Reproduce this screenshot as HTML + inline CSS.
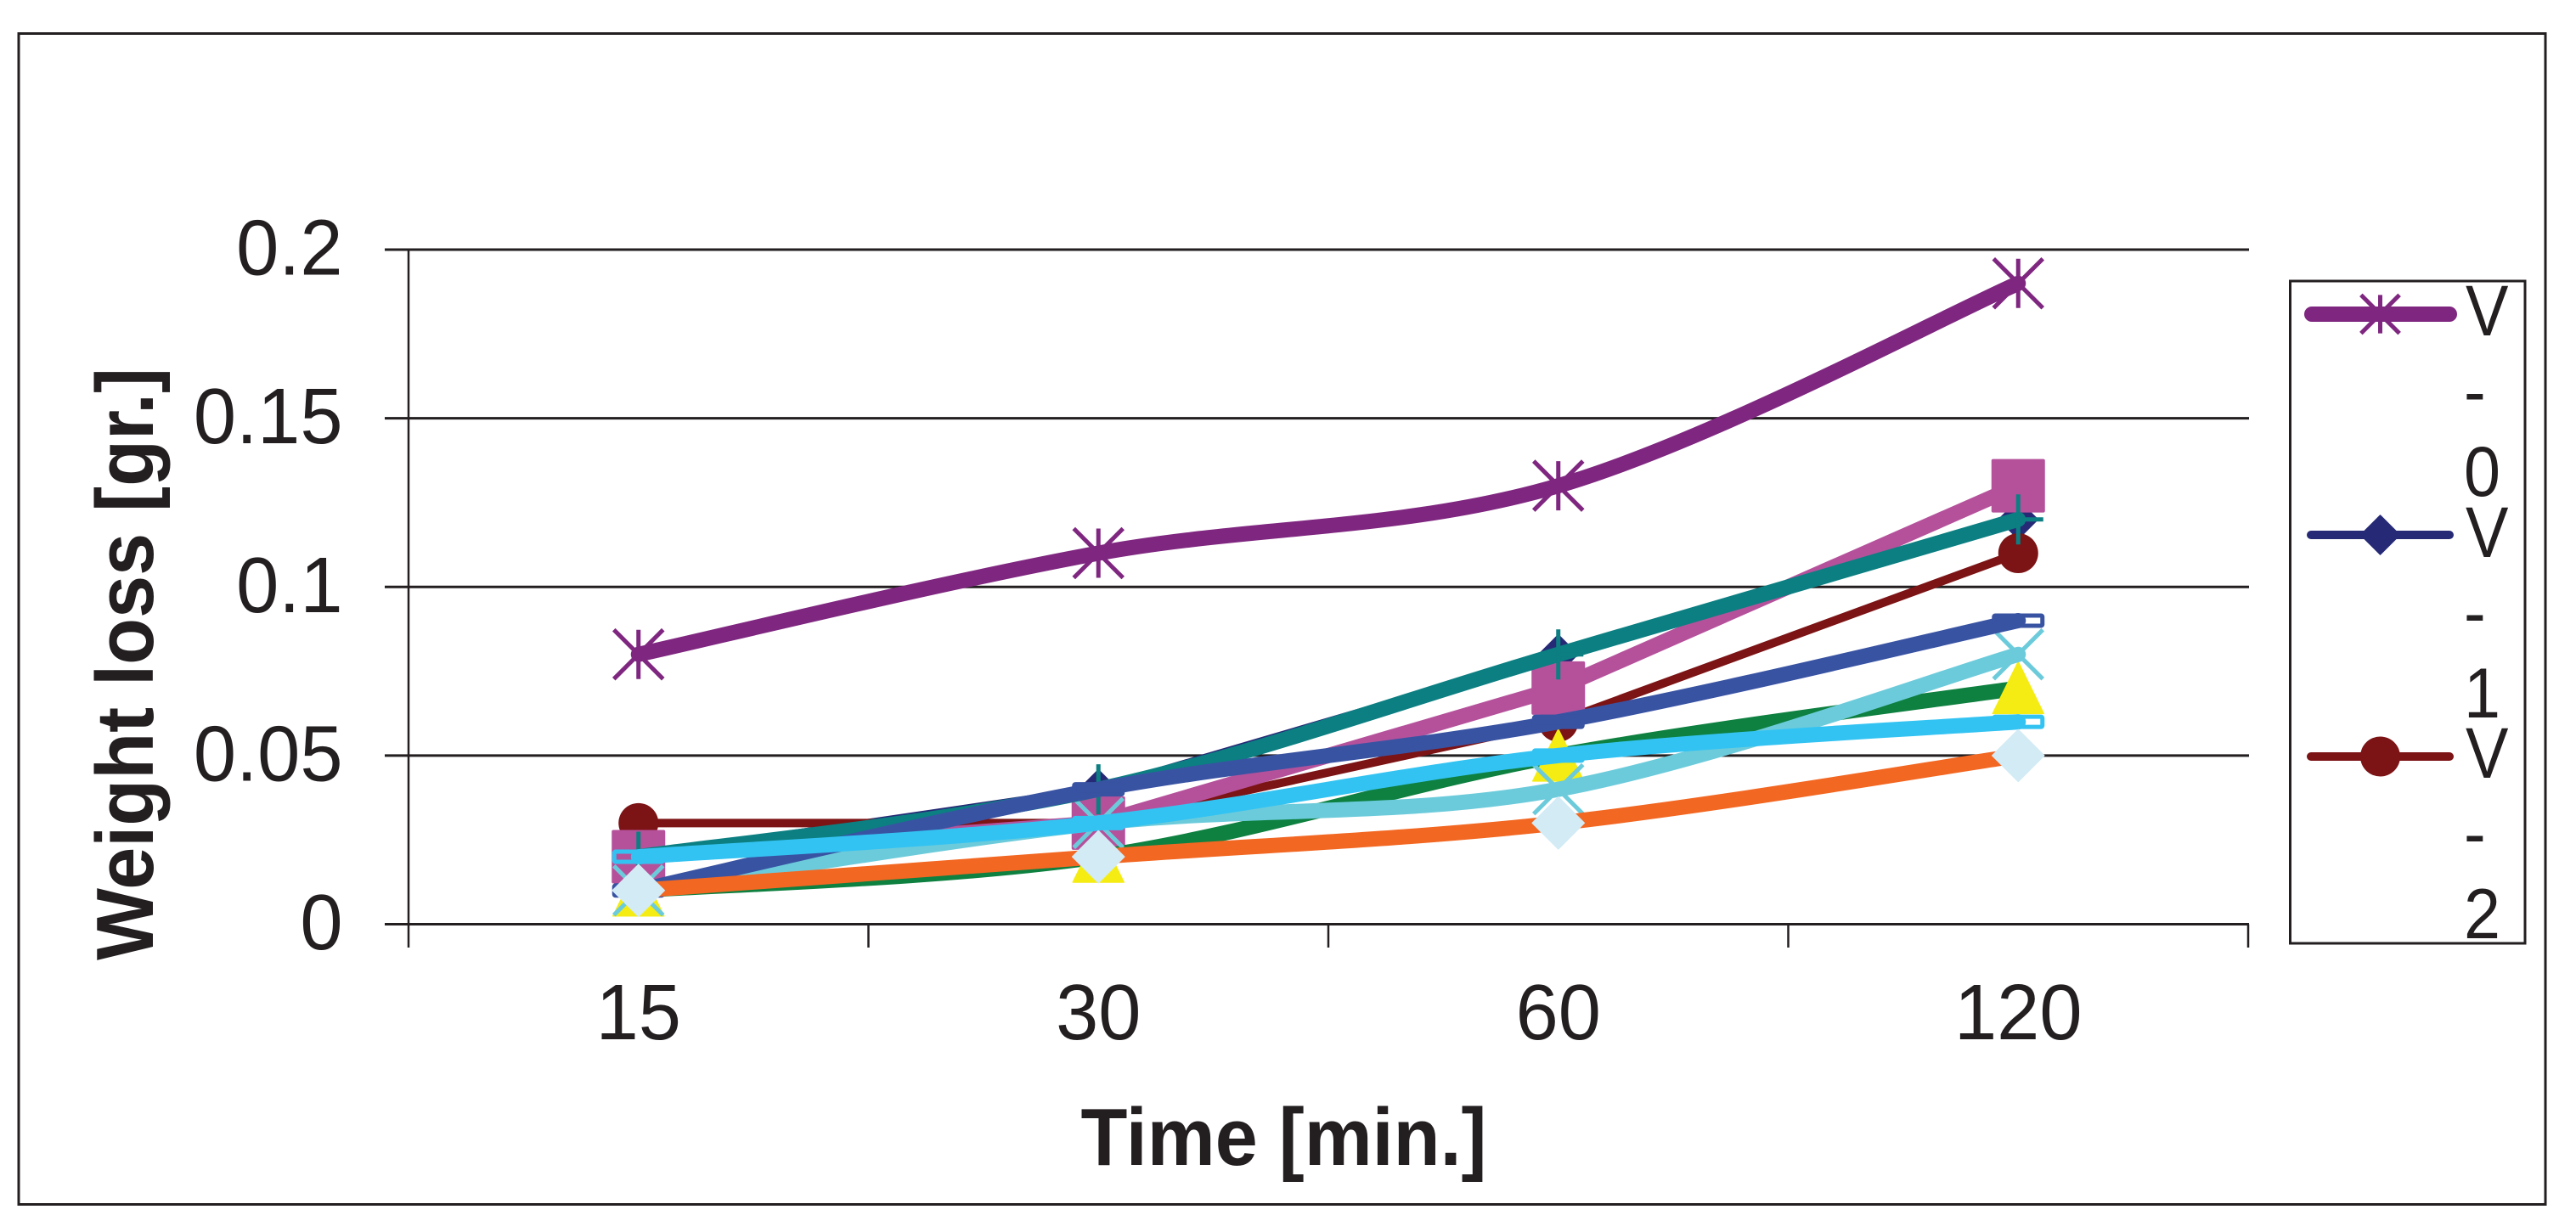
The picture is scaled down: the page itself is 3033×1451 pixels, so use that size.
<!DOCTYPE html>
<html lang="en">
<head>
<meta charset="utf-8">
<title>Weight loss over time</title>
<style>
html,body{margin:0;padding:0;background:#fff;}
svg{display:block;}
text{font-family:"Liberation Sans",Arial,sans-serif;fill:#231f20;}
</style>
</head>
<body>
<svg id="chart" xmlns="http://www.w3.org/2000/svg" width="3033" height="1451" viewBox="0 0 3033 1451">
  <rect x="0" y="0" width="3033" height="1451" fill="#ffffff"/>
  <rect x="22" y="39.5" width="2975" height="1379" fill="none" stroke="#231f20" stroke-width="3"/>
  <g id="grid"></g>
  <g id="axes"></g>
  <g id="plot"></g>
  <text transform="translate(180,1131) rotate(-90)" font-size="96" font-weight="700" textLength="698" lengthAdjust="spacingAndGlyphs">Weight loss [gr.]</text>
  <text x="1272.5" y="1372" font-size="96" font-weight="700" textLength="478" lengthAdjust="spacingAndGlyphs">Time [min.]</text>
  <g>
    <rect x="2696.5" y="331" width="276.5" height="780" fill="#ffffff" stroke="#231f20" stroke-width="3"/>
    <g id="legend-marks"></g>
    <g font-size="84">
      <text transform="translate(2903,395) scale(.9,1)">V</text>
      <text transform="translate(2901,489.5) scale(.92,1)">-</text>
      <text transform="translate(2901,584) scale(.92,1)">0</text>
    </g>
    <g font-size="84">
      <text transform="translate(2903,656) scale(.9,1)">V</text>
      <text transform="translate(2901,750) scale(.92,1)">-</text>
      <text transform="translate(2901,845) scale(.92,1)">1</text>
    </g>
    <g font-size="84">
      <text transform="translate(2903,916) scale(.9,1)">V</text>
      <text transform="translate(2901,1010) scale(.92,1)">-</text>
      <text transform="translate(2901,1105) scale(.92,1)">2</text>
    </g>
  </g>
</svg>
<script>
// Chart data
const categories = ["15", "30", "60", "120"];
const yTickValues = [0, 0.05, 0.1, 0.15, 0.2];
const yTickLabels = ["0", "0.05", "0.1", "0.15", "0.2"];
const v0Values = [0.08, 0.11, 0.13, 0.19];
const v1Values = [0.02, 0.04, 0.08, 0.12];
const v2Values = [0.03, 0.03, 0.06, 0.11];
const v3Values = [0.02, 0.03, 0.07, 0.13];
const v4Values = [0.01, 0.02, 0.05, 0.07];
const v5Values = [0.01, 0.03, 0.04, 0.08];
const v6Values = [0.02, 0.04, 0.08, 0.12];
const v7Values = [0.01, 0.04, 0.06, 0.09];
const v8Values = [0.02, 0.03, 0.05, 0.06];
const v9Values = [0.01, 0.02, 0.03, 0.05];

const INK = '#231f20';
const NS = 'http://www.w3.org/2000/svg';
const plotLeft = 481, plotRight = 2647, plotBottom = 1088.5, plotTop = 294;

function xScale(i) {
  return plotLeft + (i + 0.5) * (plotRight - plotLeft) / categories.length;
}
function yScale(v) {
  return plotBottom - v / 0.2 * (plotBottom - plotTop);
}
function mk(tag, parent) {
  const el = document.createElementNS(NS, tag);
  parent.appendChild(el);
  return el;
}
function smoothPath(pts) {
  let d = 'M' + pts[0][0] + ' ' + pts[0][1];
  for (let i = 0; i < pts.length - 1; i++) {
    const p0 = pts[Math.max(i - 1, 0)], p1 = pts[i], p2 = pts[i + 1], p3 = pts[Math.min(i + 2, pts.length - 1)];
    const c1x = p1[0] + (p2[0] - p0[0]) / 6, c1y = p1[1] + (p2[1] - p0[1]) / 6;
    const c2x = p2[0] - (p3[0] - p1[0]) / 6, c2y = p2[1] - (p3[1] - p1[1]) / 6;
    d += ' C' + c1x + ' ' + c1y + ' ' + c2x + ' ' + c2y + ' ' + p2[0] + ' ' + p2[1];
  }
  return d;
}
function straightPath(pts) {
  return pts.map(function (p, i) { return (i ? 'L' : 'M') + p[0] + ' ' + p[1]; }).join(' ');
}

// Draw one marker glyph around (cx, cy)
function drawMarker(parent, kind, color, cx, cy, k) {
  const g = mk('g', parent);
  
  
  function seg(x1, y1, x2, y2) {
    const l = mk('line', g);
    l.setAttribute('x1', cx + x1 * k);
    l.setAttribute('y1', cy + y1 * k);
    l.setAttribute('x2', cx + x2 * k);
    l.setAttribute('y2', cy + y2 * k);
    l.setAttribute('stroke', color);
    l.setAttribute('stroke-width', 5);
  }
  function poly(points) {
    const p = mk('polygon', g);
    p.setAttribute('points', points.map(function (q) { return (cx + q[0] * k) + ',' + (cy + q[1] * k); }).join(' '));
    p.setAttribute('fill', color);
    p.setAttribute('stroke', color);
    p.setAttribute('stroke-width', 1.5);
    p.setAttribute('stroke-linejoin', 'round');
  }
  if (kind === 'star') {
    seg(0, -29, 0, 29); seg(-29, -29, 29, 29); seg(-29, 29, 29, -29);
  } else if (kind === 'diamond') {
    poly([[0, -23], [23, 0], [0, 23], [-23, 0]]);
  } else if (kind === 'circle') {
    const c = mk('circle', g);
    c.setAttribute('cx', cx);
    c.setAttribute('cy', cy);
    c.setAttribute('r', 23.5 * k);
    c.setAttribute('fill', color);
  } else if (kind === 'square') {
    const r = mk('rect', g);
    r.setAttribute('x', cx - 31.5 * k);
    r.setAttribute('y', cy - 31.5 * k);
    r.setAttribute('width', 63 * k);
    r.setAttribute('height', 63 * k);
    r.setAttribute('rx', 2);
    r.setAttribute('fill', color);
  } else if (kind === 'triangle') {
    poly([[0, -31], [30, 30], [-30, 30]]);
  } else if (kind === 'cross') {
    seg(-29, -29, 29, 29); seg(-29, 29, 29, -29);
  } else if (kind === 'plus') {
    seg(0, -29.5, 0, 29.5); seg(0, 0, 29.5, 0);
  } else if (kind === 'dash') {
    const r = mk('rect', g);
    r.setAttribute('x', cx - 28.5);
    r.setAttribute('y', cy - 6);
    r.setAttribute('width', 57);
    r.setAttribute('height', 12);
    r.setAttribute('rx', 1.5);
    r.setAttribute('fill', 'none');
    r.setAttribute('stroke', color);
    r.setAttribute('stroke-width', 5);
  } else if (kind === 'bigdiamond') {
    poly([[0, -30.5], [30.5, 0], [0, 30.5], [-30.5, 0]]);
  }
}

// Series styling, in paint order
const series = [
  { name: 'v-0-series', values: v0Values, color: '#7f2780', width: 18, smooth: true,  marker: 'star',       markerColor: '#7f2780' },
  { name: 'v-1-series', values: v1Values, color: '#262a76', width: 10, smooth: false, marker: 'diamond',    markerColor: '#262a76' },
  { name: 'v-2-series', values: v2Values, color: '#7c1315', width: 10, smooth: false, marker: 'circle',     markerColor: '#7c1315' },
  { name: 'magenta-series', values: v3Values, color: '#b5519b', width: 18, smooth: false, marker: 'square', markerColor: '#b5519b' },
  { name: 'green-series', values: v4Values, color: '#0e8040', width: 18, smooth: true, marker: 'triangle',  markerColor: '#f5ec13' },
  { name: 'cyan-series', values: v5Values, color: '#6ccbdb', width: 18, smooth: true, marker: 'cross',      markerColor: '#6ccbdb' },
  { name: 'teal-series', values: v6Values, color: '#0c7f82', width: 18, smooth: true, marker: 'plus',       markerColor: '#0c7f82' },
  { name: 'blue-series', values: v7Values, color: '#3953a3', width: 18, smooth: true, marker: 'dash',       markerColor: '#3953a3' },
  { name: 'sky-series', values: v8Values, color: '#33c3f2', width: 18, smooth: true, marker: 'dash',        markerColor: '#33c3f2' },
  { name: 'orange-series', values: v9Values, color: '#f26722', width: 18, smooth: true, marker: 'bigdiamond', markerColor: '#d2ebf5' }
];

const gridG = document.getElementById('grid');
const axesG = document.getElementById('axes');
const plotG = document.getElementById('plot');
const legendG = document.getElementById('legend-marks');

// Gridlines and y ticks
yTickValues.forEach(function (v, i) {
  const y = yScale(v);
  const line = mk('line', gridG);
  
  
  line.setAttribute('x1', 453);
  line.setAttribute('x2', plotRight + 1);
  line.setAttribute('y1', y);
  line.setAttribute('y2', y);
  line.setAttribute('stroke', INK);
  line.setAttribute('stroke-width', 3);

  const label = mk('text', axesG);
  
  
  label.setAttribute('transform', 'translate(403.5,' + (y + 29.5) + ') scale(.97,1)');
  label.setAttribute('font-size', 93);
  label.setAttribute('text-anchor', 'end');
  label.textContent = yTickLabels[i];
});

// Y axis line
const yAxis = mk('line', axesG);


yAxis.setAttribute('x1', plotLeft);
yAxis.setAttribute('x2', plotLeft);
yAxis.setAttribute('y1', plotTop);
yAxis.setAttribute('y2', 1116);
yAxis.setAttribute('stroke', INK);
yAxis.setAttribute('stroke-width', 2.5);

// X ticks and labels
for (let i = 1; i <= categories.length; i++) {
  const tx = plotLeft + i * (plotRight - plotLeft) / categories.length;
  const tick = mk('line', axesG);
  
  
  tick.setAttribute('x1', tx);
  tick.setAttribute('x2', tx);
  tick.setAttribute('y1', plotBottom);
  tick.setAttribute('y2', 1116);
  tick.setAttribute('stroke', INK);
  tick.setAttribute('stroke-width', 2.5);
}
categories.forEach(function (c, i) {
  const label = mk('text', axesG);
  
  
  label.setAttribute('transform', 'translate(' + xScale(i) + ',1224) scale(.97,1)');
  label.setAttribute('font-size', 93);
  label.setAttribute('text-anchor', 'middle');
  label.textContent = c;
});

// Series
series.forEach(function (s) {
  const g = mk('g', plotG);
  
  
  const pts = s.values.map(function (v, i) { return [xScale(i), yScale(v)]; });
  const path = mk('path', g);
  
  
  path.setAttribute('d', s.smooth ? smoothPath(pts) : straightPath(pts));
  path.setAttribute('fill', 'none');
  path.setAttribute('stroke', s.color);
  path.setAttribute('stroke-width', s.width);
  path.setAttribute('stroke-linecap', 'round');
  path.setAttribute('stroke-linejoin', 'round');
  pts.forEach(function (p) {
    drawMarker(g, s.marker, s.markerColor, p[0], p[1], 1);
  });
});

// Legend lines and markers
const legendRows = [
  { series: series[0], y: 370, x1: 2722, x2: 2884, k: 0.78 },
  { series: series[1], y: 630, x1: 2721, x2: 2884, k: 1 },
  { series: series[2], y: 891, x1: 2721, x2: 2884, k: 1 }
];
legendRows.forEach(function (row) {
  const l = mk('line', legendG);
  
  
  l.setAttribute('x1', row.x1);
  l.setAttribute('x2', row.x2);
  l.setAttribute('y1', row.y);
  l.setAttribute('y2', row.y);
  l.setAttribute('stroke', row.series.color);
  l.setAttribute('stroke-width', row.series.width);
  l.setAttribute('stroke-linecap', 'round');
  drawMarker(legendG, row.series.marker, row.series.markerColor, 2802.5, row.y, row.k);
});
</script>
</body>
</html>
